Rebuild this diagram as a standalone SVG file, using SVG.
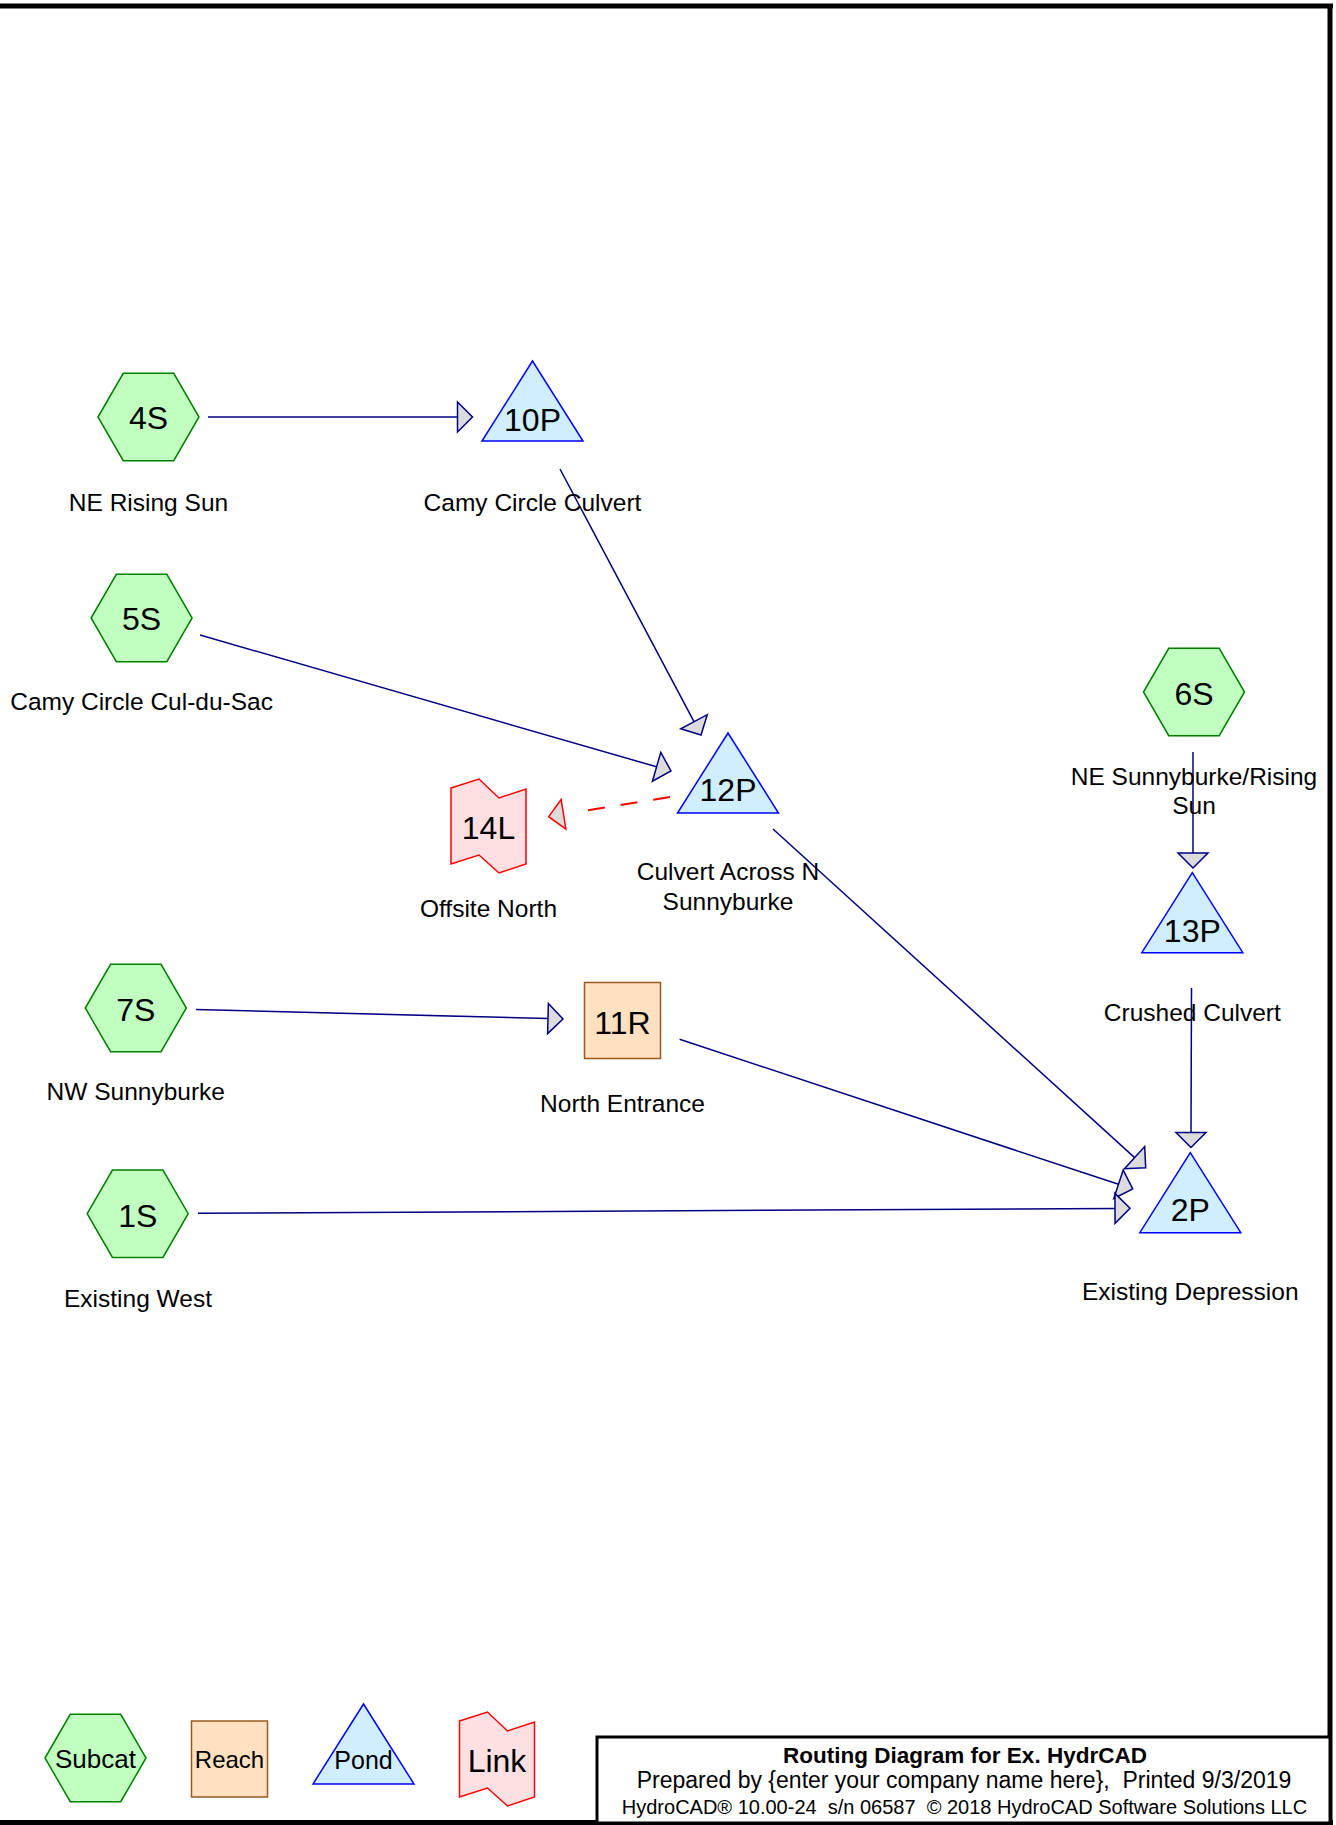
<svg xmlns="http://www.w3.org/2000/svg" xmlns:xlink="http://www.w3.org/1999/xlink" width="1336" height="1825" viewBox="0 0 1336 1825">
<style>
.hex{fill:#c0ffc0;stroke:#008000;stroke-width:1.5}
.pond{fill:#cfeeff;stroke:#0000ff;stroke-width:1.5}
.reach{fill:#ffe0c0;stroke:#9a5a20;stroke-width:1.5}
.link{fill:#ffe0e2;stroke:#ff0000;stroke-width:1.5}
.id{font-family:"Liberation Sans",Arial,sans-serif;font-size:32px;fill:#000;text-anchor:middle}
.lbl{font-family:"Liberation Sans",Arial,sans-serif;font-size:24.5px;fill:#000;text-anchor:middle}
.leg{font-family:"Liberation Sans",Arial,sans-serif;font-size:25px;fill:#000;text-anchor:middle}
.con{fill:none;stroke:#000080;stroke-width:1.5;marker-end:url(#arr)}
.dash{fill:none;stroke:#ff0000;stroke-width:2;stroke-dasharray:17 16 17 16 17 40;marker-end:url(#arrRed)}
.frame{stroke:#000;stroke-width:5;fill:none}
.t1{font-family:"Liberation Sans",Arial,sans-serif;font-size:22.5px;font-weight:bold;text-anchor:middle}
.t2{font-family:"Liberation Sans",Arial,sans-serif;font-size:23px;text-anchor:middle;white-space:pre}
.t3{font-family:"Liberation Sans",Arial,sans-serif;font-size:20px;text-anchor:middle;white-space:pre}
</style>
<defs>
<polygon id="hexShape" points="-50.5,0 -25.25,-43.7 25.25,-43.7 50.5,0 25.25,43.7 -25.25,43.7"/>
<polygon id="triShape" points="0,-80 50.5,0 -50.5,0"/>
<polygon id="linkShape" points="-37.5,-11 -9.5,-20 10.5,-1 37.5,-10 37.5,65 10.5,74 -9.5,56 -37.5,65"/>
<marker id="arr" viewBox="-2 -17 20 34" refX="0" refY="0" markerWidth="20" markerHeight="34" markerUnits="userSpaceOnUse" orient="auto">
<path d="M0,-15 L15,0 L0,15 Z" fill="#dcdcdc" stroke="#000080" stroke-width="1.5" stroke-linejoin="miter"/>
</marker>
<marker id="arrRed" viewBox="-2 -17 20 34" refX="0" refY="0" markerWidth="20" markerHeight="34" markerUnits="userSpaceOnUse" orient="auto">
<path d="M0,-15 L15,0 L0,15 Z" fill="#dcdcdc" stroke="#ff0000" stroke-width="1.5"/>
</marker>
</defs>
<rect x="0" y="0" width="1336" height="1825" fill="#fff"/>

<g id="connectors">
<path class="con" d="M208,417 L457.5,417"/>
<path class="con" d="M560,469 L694,721.7"/>
<path class="con" d="M200,635 L656.6,766.8"/>
<path class="dash" d="M670,797 L563.5,814.3"/>
<path class="con" d="M1193,752 L1193,853"/>
<path class="con" d="M196,1009.5 L548,1018.6"/>
<path class="con" d="M679.6,1039.3 L1118.5,1184.3"/>
<path class="con" d="M773,829 L1134.6,1157.6"/>
<path class="con" d="M198,1213.3 L1115,1208.4"/>
<path class="con" d="M1191.5,988 L1191,1132.5"/>
</g>

<g id="node-4S">
<use xlink:href="#hexShape" class="hex" x="148.5" y="417"/>
<text class="id" x="148.5" y="429">4S</text>
<text class="lbl" x="148.5" y="511">NE Rising Sun</text>
</g>
<g id="node-10P">
<use xlink:href="#triShape" class="pond" x="532.5" y="441"/>
<text class="id" x="532.5" y="431">10P</text>
<text class="lbl" x="532.5" y="511">Camy Circle Culvert</text>
</g>
<g id="node-5S">
<use xlink:href="#hexShape" class="hex" x="141.6" y="618"/>
<text class="id" x="141.6" y="630">5S</text>
<text class="lbl" x="141.6" y="710">Camy Circle Cul-du-Sac</text>
</g>
<g id="node-12P">
<use xlink:href="#triShape" class="pond" x="728" y="813"/>
<text class="id" x="728" y="801">12P</text>
<text class="lbl" x="728" y="880">Culvert Across N</text>
<text class="lbl" x="728" y="910">Sunnyburke</text>
</g>
<g id="node-14L">
<use xlink:href="#linkShape" class="link" x="488.5" y="799"/>
<text class="id" x="488.5" y="839">14L</text>
<text class="lbl" x="488.5" y="917">Offsite North</text>
</g>
<g id="node-6S">
<use xlink:href="#hexShape" class="hex" x="1194" y="692"/>
<text class="id" x="1194" y="705">6S</text>
<text class="lbl" x="1194" y="785">NE Sunnyburke/Rising</text>
<text class="lbl" x="1194" y="814">Sun</text>
</g>
<g id="node-13P">
<use xlink:href="#triShape" class="pond" x="1192.3" y="952.7"/>
<text class="id" x="1192.3" y="941.7">13P</text>
<text class="lbl" x="1192.3" y="1020.7">Crushed Culvert</text>
</g>
<g id="node-7S">
<use xlink:href="#hexShape" class="hex" x="135.8" y="1008"/>
<text class="id" x="135.8" y="1020.7">7S</text>
<text class="lbl" x="135.8" y="1100">NW Sunnyburke</text>
</g>
<g id="node-11R">
<rect class="reach" x="584.5" y="982.5" width="76" height="76"/>
<text class="id" x="622.5" y="1034">11R</text>
<text class="lbl" x="622.5" y="1111.7">North Entrance</text>
</g>
<g id="node-1S">
<use xlink:href="#hexShape" class="hex" x="137.7" y="1213.7"/>
<text class="id" x="137.7" y="1226.5">1S</text>
<text class="lbl" x="138" y="1306.7">Existing West</text>
</g>
<g id="node-2P">
<use xlink:href="#triShape" class="pond" x="1190.3" y="1232.7"/>
<text class="id" x="1190.3" y="1220.7">2P</text>
<text class="lbl" x="1190.3" y="1300">Existing Depression</text>
</g>

<g id="legend">
<g id="legend-subcat">
<use xlink:href="#hexShape" class="hex" x="95.5" y="1758"/>
<text class="leg" x="95.5" y="1768" style="font-size:26px">Subcat</text>
</g>
<g id="legend-reach">
<rect class="reach" x="191.5" y="1721" width="76" height="76"/>
<text class="leg" x="229.5" y="1768" style="font-size:24px">Reach</text>
</g>
<g id="legend-pond">
<use xlink:href="#triShape" class="pond" x="363.5" y="1784"/>
<text class="leg" x="363.5" y="1769">Pond</text>
</g>
<g id="legend-link">
<use xlink:href="#linkShape" class="link" x="497" y="1732"/>
<text class="id" x="497" y="1772">Link</text>
</g>
</g>

<g id="frame">
<line class="frame" x1="0" y1="6" x2="1333" y2="6"/>
<line class="frame" x1="1330" y1="4" x2="1330" y2="1825"/>
<line class="frame" x1="0" y1="1822.5" x2="1333" y2="1822.5"/>
</g>

<g id="title-block">
<rect x="597" y="1737" width="733" height="86" fill="#fff" stroke="#000" stroke-width="3"/>
<text class="t1" x="965" y="1763">Routing Diagram for Ex. HydrCAD</text>
<text class="t2" x="964" y="1788" xml:space="preserve">Prepared by {enter your company name here},  Printed 9/3/2019</text>
<text class="t3" x="964.5" y="1814" xml:space="preserve">HydroCAD® 10.00-24  s/n 06587  © 2018 HydroCAD Software Solutions LLC</text>
</g>
</svg>
